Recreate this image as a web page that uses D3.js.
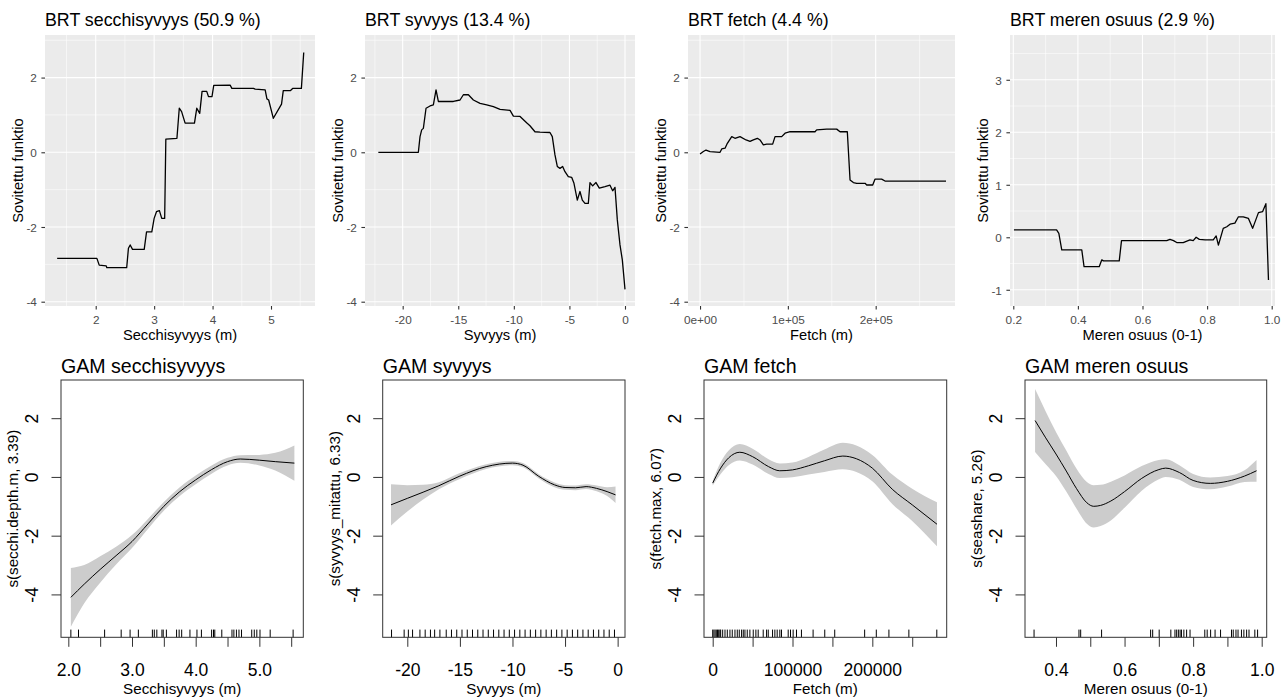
<!DOCTYPE html>
<html><head><meta charset="utf-8">
<script src="https://cdn.jsdelivr.net/npm/d3@7"></script>
<style>
body{margin:0;background:#fff}
svg{display:block}
text{font-family:"Liberation Sans",Arial,sans-serif}
</style>
</head><body>
<svg id="c" width="1285" height="700"></svg>
<script>
// ---------------- DATA ----------------
// BRT partial dependence (top row)
const brtSecchiX = [1.34,2.02,2.06,2.18,2.19,2.53,2.56,2.59,2.63,2.83,2.87,2.96,3.0,3.04,3.09,3.13,3.18,3.2,3.39,3.43,3.47,3.53,3.69,3.73,3.78,3.82,3.9,3.93,3.99,4.02,4.3,4.33,4.7,4.73,4.9,4.93,4.96,5.04,5.18,5.21,5.33,5.37,5.52,5.56];
const brtSecchiY = [-2.84,-2.84,-3.02,-3.04,-3.09,-3.09,-2.57,-2.48,-2.6,-2.6,-2.13,-2.13,-1.77,-1.59,-1.56,-1.77,-1.77,0.35,0.375,1.18,1.09,0.78,0.78,1.18,1.04,1.63,1.63,1.49,1.49,1.79,1.8,1.71,1.71,1.69,1.67,1.43,1.4,0.91,1.29,1.65,1.65,1.71,1.71,2.67];

const brtSyvyysX = [-22.19,-18.59,-18.44,-18.29,-18.14,-17.9,-17.54,-17.24,-17.0,-16.79,-15.44,-14.84,-14.54,-14.09,-13.64,-13.04,-12.44,-11.84,-11.24,-10.34,-10.04,-9.44,-8.85,-8.55,-8.1,-7.65,-6.75,-6.54,-6.3,-6.09,-5.85,-5.61,-5.4,-5.1,-4.8,-4.59,-4.29,-4.05,-3.84,-3.6,-3.3,-3.15,-2.91,-2.61,-2.31,-1.8,-1.35,-1.11,-0.9,-0.69,-0.45,-0.24,0];
const brtSyvyysY = [0,0,0.42,0.6,0.64,1.18,1.24,1.27,1.67,1.36,1.36,1.4,1.54,1.54,1.4,1.31,1.27,1.22,1.15,1.12,0.97,0.96,0.79,0.71,0.55,0.54,0.53,0.42,-0.07,-0.38,-0.43,-0.38,-0.52,-0.65,-0.67,-0.83,-1.28,-1.05,-1.28,-1.37,-1.37,-0.81,-0.9,-0.81,-0.96,-0.92,-0.88,-1.03,-0.94,-1.81,-2.48,-2.88,-3.67];

const brtFetchX = [0,3800,6800,11400,22800,24700,28500,31100,36100,39800,45500,52400,56900,60700,65300,68300,72100,75900,82700,85400,93000,96800,102500,130900,132800,144200,155600,159400,167700,170800,174600,178400,187900,189800,196600,199200,206800,210600,280100];
const brtFetchY = [-0.045,0.02,0.06,0.02,0,0.09,0.11,0.24,0.42,0.375,0.42,0.33,0.29,0.33,0.375,0.33,0.2,0.22,0.22,0.42,0.42,0.51,0.55,0.55,0.6,0.62,0.62,0.55,0.55,-0.74,-0.81,-0.83,-0.83,-0.875,-0.875,-0.72,-0.72,-0.77,-0.77];

const brtMeriX = [0.202,0.334,0.341,0.35,0.412,0.419,0.466,0.474,0.479,0.528,0.535,0.675,0.685,0.696,0.706,0.726,0.747,0.757,0.766,0.776,0.794,0.819,0.828,0.835,0.85,0.861,0.871,0.886,0.897,0.912,0.928,0.941,0.959,0.972,0.982,0.99];
const brtMeriY = [0.14,0.14,0.076,-0.24,-0.24,-0.56,-0.56,-0.43,-0.45,-0.45,-0.064,-0.064,-0.04,-0.064,-0.1,-0.1,-0.05,-0.064,0,-0.04,-0.05,-0.05,0.025,-0.15,0.17,0.2,0.25,0.27,0.39,0.39,0.36,0.17,0.47,0.49,0.64,-0.815];

// GAM smooths (bottom row): x, fitted value, standard-error half width
const gamSecchiX   = [2.04,2.25,2.5,2.75,3.0,3.25,3.5,3.75,4.0,4.25,4.5,4.7,5.0,5.25,5.55];
const gamSecchiFit = [-4.1,-3.65,-3.15,-2.68,-2.2,-1.6,-1.0,-0.5,-0.1,0.25,0.52,0.61,0.57,0.52,0.47];
const gamSecchiSe  = [1.0,0.65,0.45,0.3,0.22,0.17,0.15,0.15,0.15,0.14,0.13,0.13,0.18,0.3,0.6];
const gamSecchiRug = [2.04,2.16,2.57,2.83,2.97,3.10,3.32,3.35,3.39,3.47,3.49,3.54,3.70,3.74,3.78,3.91,4.02,4.09,4.25,4.28,4.30,4.41,4.57,4.60,4.64,4.68,4.72,4.88,4.92,4.96,5.01,5.17,5.53];

const gamSyvyysX   = [-21.55,-20,-18.5,-17,-15,-12.5,-10,-9,-7.5,-6,-5,-4,-3,-2,-1,-0.2];
const gamSyvyysFit = [-0.95,-0.73,-0.52,-0.3,0.03,0.35,0.47,0.4,0.02,-0.27,-0.36,-0.37,-0.33,-0.39,-0.5,-0.61];
const gamSyvyysSe  = [0.7,0.45,0.25,0.12,0.1,0.08,0.07,0.07,0.07,0.08,0.08,0.08,0.08,0.1,0.15,0.28];
const gamSyvyysRug = [-21.5,-20.3,-19.9,-19.5,-18.8,-18.3,-17.8,-17.4,-16.9,-16.3,-15.8,-15.3,-14.8,-14.3,-13.8,-13.3,-12.8,-12.3,-11.8,-11.3,-10.8,-10.3,-9.8,-9.3,-8.8,-8.3,-7.8,-7.3,-6.8,-6.3,-5.8,-5.3,-4.8,-4.3,-3.8,-3.3,-2.8,-2.3,-1.8,-1.3,-0.8,-0.3];

const gamFetchX   = [0,10000,20000,34000,50000,70000,84000,100000,120000,140000,163000,180000,200000,225000,250000,281000];
const gamFetchFit = [-0.21,0.3,0.65,0.84,0.69,0.35,0.21,0.24,0.38,0.55,0.71,0.62,0.3,-0.42,-0.95,-1.61];
const gamFetchSe  = [0.08,0.2,0.25,0.28,0.27,0.25,0.25,0.25,0.3,0.38,0.45,0.45,0.45,0.5,0.55,0.75];
const gamFetchRug = [0,1500,3000,4500,6000,7500,9000,10000,12500,15400,18300,21600,24500,27900,30800,33300,36200,38300,40400,43300,46600,50800,54100,57000,63300,67500,69600,75000,77900,80800,84100,86200,94600,97500,100800,105000,111200,125800,140400,152900,190400,205000,220800,245800,280800];

const gamMeriX   = [0.339,0.37,0.4,0.43,0.46,0.49,0.51,0.53,0.56,0.6,0.65,0.7,0.72,0.76,0.8,0.85,0.9,0.95,0.985];
const gamMeriFit = [1.92,1.33,0.78,0.2,-0.4,-0.88,-1.0,-0.97,-0.82,-0.5,-0.05,0.25,0.3,0.15,-0.12,-0.22,-0.15,0.03,0.21];
const gamMeriSe  = [1.07,0.9,0.75,0.7,0.68,0.71,0.72,0.7,0.66,0.55,0.42,0.33,0.3,0.25,0.22,0.2,0.18,0.2,0.37];
const gamMeriRug = [0.336,0.467,0.472,0.533,0.676,0.682,0.701,0.735,0.747,0.752,0.757,0.762,0.766,0.773,0.781,0.791,0.834,0.841,0.851,0.864,0.880,0.912,0.917,0.925,0.931,0.941,0.948,0.956,0.963,0.980,0.988];

// Tick values and labels
const brtYTicks = [-4,-2,0,2];
const brtYTickLabels = ["-4","-2","0","2"];
const brtMeriYTicks = [-1,0,1,2,3];
const brtMeriYTickLabels = ["-1","0","1","2","3"];
const brtSecchiXTicks = [2,3,4,5];
const brtSecchiXTickLabels = ["2","3","4","5"];
const brtSyvyysXTicks = [-20,-15,-10,-5,0];
const brtSyvyysXTickLabels = ["-20","-15","-10","-5","0"];
const brtFetchXTicks = [0,100000,200000];
const brtFetchXTickLabels = ["0e+00","1e+05","2e+05"];
const brtMeriXTicks = [0.2,0.4,0.6,0.8,1.0];
const brtMeriXTickLabels = ["0.2","0.4","0.6","0.8","1.0"];

const gamYTicks = [-4,-2,0,2];
const gamYTickLabels = ["-4","-2","0","2"];
const gamSecchiXTicks = [2,2.5,3,3.5,4,4.5,5,5.5];
const gamSecchiXTickLabels = ["2.0","","3.0","","4.0","","5.0",""];
const gamSyvyysXTicks = [-20,-15,-10,-5,0];
const gamSyvyysXTickLabels = ["-20","-15","-10","-5","0"];
const gamFetchXTicks = [0,50000,100000,150000,200000,250000];
const gamFetchXTickLabels = ["0","","100000","","200000",""];
const gamMeriXTicks = [0.4,0.5,0.6,0.7,0.8,0.9,1.0];
const gamMeriXTickLabels = ["0.4","","0.6","","0.8","","1.0"];

// ---------------- DRAWING ----------------
const svg = d3.select("#c");
const FONT = '"Liberation Sans",Arial,sans-serif';

function drawBRT(o){
  const [l,r,t,b] = o.box;
  const x = d3.scaleLinear().domain(o.xDomain).range([l,r]);
  const y = d3.scaleLinear().domain(o.yDomain).range([b,t]);
  const g = svg.append("g");
  g.append("rect").attr("x",l).attr("y",t).attr("width",r-l).attr("height",b-t).attr("fill","#EBEBEB");
  const inX = v => v>=o.xDomain[0] && v<=o.xDomain[1];
  const inY = v => v>=o.yDomain[0] && v<=o.yDomain[1];
  g.selectAll(null).data(o.xMinor.filter(inX)).join("line")
    .attr("x1",d=>x(d)).attr("x2",d=>x(d)).attr("y1",t).attr("y2",b)
    .attr("stroke","#fff").attr("stroke-width",0.55);
  g.selectAll(null).data(o.yMinor.filter(inY)).join("line")
    .attr("y1",d=>y(d)).attr("y2",d=>y(d)).attr("x1",l).attr("x2",r)
    .attr("stroke","#fff").attr("stroke-width",0.55);
  g.selectAll(null).data(o.xTicks).join("line")
    .attr("x1",d=>x(d)).attr("x2",d=>x(d)).attr("y1",t).attr("y2",b)
    .attr("stroke","#fff").attr("stroke-width",1.1);
  g.selectAll(null).data(o.yTicks).join("line")
    .attr("y1",d=>y(d)).attr("y2",d=>y(d)).attr("x1",l).attr("x2",r)
    .attr("stroke","#fff").attr("stroke-width",1.1);
  const line = d3.line().x(d=>x(d[0])).y(d=>y(d[1]));
  g.append("path").datum(o.xs.map((v,i)=>[v,o.ys[i]]))
    .attr("d",line).attr("fill","none").attr("stroke","#000").attr("stroke-width",1.3)
    .attr("stroke-linejoin","round");
  // axes
  const ax = g.append("g").attr("transform",`translate(0,${b})`)
    .call(d3.axisBottom(x).tickValues(o.xTicks).tickFormat((d,i)=>o.xLabels[i]).tickSize(3.6).tickPadding(4));
  ax.select(".domain").remove();
  ax.selectAll("line").attr("stroke","#333").attr("stroke-width",1.1);
  ax.selectAll("text").attr("fill","#4D4D4D").attr("font-size","11.8px").attr("font-family",FONT)
    .attr("y",17.5).attr("dy",null);
  const ay = g.append("g").attr("transform",`translate(${l},0)`)
    .call(d3.axisLeft(y).tickValues(o.yTicks).tickFormat((d,i)=>o.yLabels[i]).tickSize(3.6).tickPadding(4.5));
  ay.select(".domain").remove();
  ay.selectAll("line").attr("stroke","#333").attr("stroke-width",1.1);
  ay.selectAll("text").attr("fill","#4D4D4D").attr("font-size","11.8px").attr("font-family",FONT).attr("dy","0.36em");
  // titles
  g.append("text").attr("x",l).attr("y",26).attr("font-size","17.8px").attr("fill","#000").text(o.title);
  g.append("text").attr("x",(l+r)/2).attr("y",339.5).attr("text-anchor","middle").attr("font-size","14.7px").text(o.xTitle);
  g.append("text").attr("transform",`translate(${l-27.5},${(t+b)/2}) rotate(-90)`)
    .attr("text-anchor","middle").attr("dy","0.36em").attr("font-size","14.7px").text(o.yTitle);
}

function drawGAM(o){
  const [l,r,t,b] = o.box;
  const x = d3.scaleLinear().domain(o.xDomain).range([l,r]);
  const y = d3.scaleLinear().domain(o.yDomain).range([b,t]);
  const g = svg.append("g");
  const pts = o.xs.map((v,i)=>({x:v,f:o.fit[i],s:o.se[i]}));
  const area = d3.area().curve(d3.curveMonotoneX).x(d=>x(d.x)).y0(d=>y(d.f-d.s)).y1(d=>y(d.f+d.s));
  g.append("path").datum(pts).attr("d",area).attr("fill","#CCCCCC");
  const line = d3.line().curve(d3.curveMonotoneX).x(d=>x(d.x)).y(d=>y(d.f));
  g.append("path").datum(pts).attr("d",line).attr("fill","none").attr("stroke","#000").attr("stroke-width",1);
  // rug
  const rugLen = (b-t)*0.03;
  g.selectAll(null).data(o.rug).join("line")
    .attr("x1",d=>x(d)).attr("x2",d=>x(d)).attr("y1",b).attr("y2",b-rugLen)
    .attr("stroke","#000").attr("stroke-width",1);
  // box
  g.append("rect").attr("x",l).attr("y",t).attr("width",r-l).attr("height",b-t)
    .attr("fill","none").attr("stroke","#333").attr("stroke-width",1);
  // axes
  const ax = g.append("g").attr("transform",`translate(0,${b})`)
    .call(d3.axisBottom(x).tickValues(o.xTicks).tickFormat((d,i)=>o.xLabels[i]).tickSize(9.5));
  ax.select(".domain").remove();
  ax.selectAll("line").attr("stroke","#333").attr("stroke-width",1);
  ax.selectAll("text").attr("fill","#000").attr("font-size","17.5px").attr("font-family",FONT)
    .attr("y",39).attr("dy",null);
  const ay = g.append("g").attr("transform",`translate(${l},0)`)
    .call(d3.axisLeft(y).tickValues(o.yTicks).tickFormat((d,i)=>o.yLabels[i]).tickSize(9.5));
  ay.select(".domain").remove();
  ay.selectAll("line").attr("stroke","#333").attr("stroke-width",1);
  ay.selectAll("text").attr("fill","#000").attr("font-size","17.5px").attr("font-family",FONT)
    .attr("x",null).attr("dy","0.36em").attr("text-anchor","middle")
    .attr("transform","translate(-29,0) rotate(-90)");
  g.append("text").attr("x",l).attr("y",372.5).attr("font-size","19.6px").text(o.title);
  g.append("text").attr("x",(l+r)/2).attr("y",693.5).attr("text-anchor","middle").attr("font-size","15.2px").text(o.xTitle);
  g.append("text").attr("transform",`translate(${l-48},${(t+b)/2}) rotate(-90)`)
    .attr("text-anchor","middle").attr("dy","0.36em").attr("font-size","15.2px").text(o.yTitle);
}

const brtYDom = [-4.115,3.14];
const yT = "Sovitettu funktio";
drawBRT({box:[45,315,35,306], xDomain:[1.132,5.753], yDomain:brtYDom, xs:brtSecchiX, ys:brtSecchiY,
  xTicks:brtSecchiXTicks, xLabels:brtSecchiXTickLabels, yTicks:brtYTicks, yLabels:brtYTickLabels,
  xMinor:[1.5,2.5,3.5,4.5,5.5], yMinor:[-3,-1,1,3],
  title:"BRT secchisyvyys (50.9 %)", xTitle:"Secchisyvyys (m)", yTitle:yT});
drawBRT({box:[365,635,35,306], xDomain:[-23.39,0.9], yDomain:brtYDom, xs:brtSyvyysX, ys:brtSyvyysY,
  xTicks:brtSyvyysXTicks, xLabels:brtSyvyysXTickLabels, yTicks:brtYTicks, yLabels:brtYTickLabels,
  xMinor:[-22.5,-17.5,-12.5,-7.5,-2.5], yMinor:[-3,-1,1,3],
  title:"BRT syvyys (13.4 %)", xTitle:"Syvyys (m)", yTitle:yT});
drawBRT({box:[688,955,35,306], xDomain:[-13700,290300], yDomain:brtYDom, xs:brtFetchX, ys:brtFetchY,
  xTicks:brtFetchXTicks, xLabels:brtFetchXTickLabels, yTicks:brtYTicks, yLabels:brtYTickLabels,
  xMinor:[50000,150000,250000], yMinor:[-3,-1,1,3],
  title:"BRT fetch (4.4 %)", xTitle:"Fetch (m)", yTitle:yT});
drawBRT({box:[1010,1275,35,306], xDomain:[0.1898,1.0102], yDomain:[-1.309,3.853], xs:brtMeriX, ys:brtMeriY,
  xTicks:brtMeriXTicks, xLabels:brtMeriXTickLabels, yTicks:brtMeriYTicks, yLabels:brtMeriYTickLabels,
  xMinor:[0.3,0.5,0.7,0.9], yMinor:[-0.5,0.5,1.5,2.5,3.5],
  title:"BRT meren osuus (2.9 %)", xTitle:"Meren osuus (0-1)", yTitle:yT});

const gamYDom = [-5.46,3.30];
drawGAM({box:[61,303.3,380,637.3], xDomain:[1.885,5.69], yDomain:gamYDom,
  xs:gamSecchiX, fit:gamSecchiFit, se:gamSecchiSe, rug:gamSecchiRug,
  xTicks:gamSecchiXTicks, xLabels:gamSecchiXTickLabels, yTicks:gamYTicks, yLabels:gamYTickLabels,
  title:"GAM secchisyvyys", xTitle:"Secchisyvyys (m)", yTitle:"s(secchi.depth.m, 3.39)"});
drawGAM({box:[382.7,625,380,637.3], xDomain:[-22.34,0.70], yDomain:gamYDom,
  xs:gamSyvyysX, fit:gamSyvyysFit, se:gamSyvyysSe, rug:gamSyvyysRug,
  xTicks:gamSyvyysXTicks, xLabels:gamSyvyysXTickLabels, yTicks:gamYTicks, yLabels:gamYTickLabels,
  title:"GAM syvyys", xTitle:"Syvyys (m)", yTitle:"s(syvyys_mitattu, 6.33)"});
drawGAM({box:[704,946.7,380,637.3], xDomain:[-10900,293200], yDomain:gamYDom,
  xs:gamFetchX, fit:gamFetchFit, se:gamFetchSe, rug:gamFetchRug,
  xTicks:gamFetchXTicks, xLabels:gamFetchXTickLabels, yTicks:gamYTicks, yLabels:gamYTickLabels,
  title:"GAM fetch", xTitle:"Fetch (m)", yTitle:"s(fetch.max, 6.07)"});
drawGAM({box:[1025,1266.7,380,637.3], xDomain:[0.3096,1.0146], yDomain:gamYDom,
  xs:gamMeriX, fit:gamMeriFit, se:gamMeriSe, rug:gamMeriRug,
  xTicks:gamMeriXTicks, xLabels:gamMeriXTickLabels, yTicks:gamYTicks, yLabels:gamYTickLabels,
  title:"GAM meren osuus", xTitle:"Meren osuus (0-1)", yTitle:"s(seashare, 5.26)"});
</script>
</body></html>
